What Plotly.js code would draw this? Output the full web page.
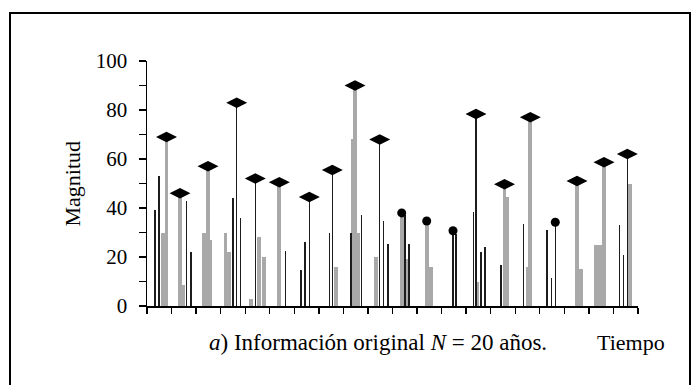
<!DOCTYPE html>
<html>
<head>
<meta charset="utf-8">
<script src="https://cdn.plot.ly/plotly-3.0.1.min.js"></script>
<style>html,body{margin:0;padding:0;background:#fff;}#chart{width:700px;height:385px;}</style>
</head>
<body>
<div id="chart"></div>
<script>
// Event times (years from start of record), magnitudes, and bar kind (g = gray, G = wide gray, k = black)
const eventTime = [0.326,0.489,0.652,0.794, 1.344,1.479,1.617,1.792, 2.322,2.485,2.566,
  3.198,3.352,3.503,3.654,3.817, 4.236,4.411,4.550,4.766, 5.389,5.633, 6.273,6.436,6.611,
  7.426,7.548,7.711, 8.310,8.371,8.473,8.607,8.737, 9.340,9.479,9.642,9.817,
  10.375,10.509,10.578,10.672, 11.393,11.568, 12.464,12.587,
  13.291,13.401,13.462,13.605,13.768, 14.420,14.562,14.684, 15.344,15.519,15.613,
  16.293,16.468,16.631, 17.515,17.690, 18.371,18.615, 19.238,19.401,19.564,19.674];
const eventMag = [39,53,30,69, 46,8.5,43,22, 30,57,27,
  30,22,44,83,36, 3,52,28,20, 50.5,22.5, 14.5,26,44.5,
  30,55.5,16, 30,68,90,30,37, 20,68,34.5,25.5,
  38,37,19,25.5, 34.7,16, 30.7,29.5,
  38.4,78.4,10,22,24, 16.7,49.7,44.5, 33.6,16,77,
  31,11.3,34.2, 51,15, 25,58.7, 33,21,62,50];
const eventKind = ['k','k','g','g', 'g','g','k','k', 'g','g','g',
  'g','g','k','k','k', 'g','k','g','g', 'g','k', 'k','k','k',
  'k','k','g', 'k','g','g','g','k', 'g','k','k','k',
  'g','k','g','k', 'g','g', 'k','k',
  'k','k','g','k','k', 'k','g','g', 'k','g','g',
  'k','k','k', 'g','g', 'G','g', 'k','k','k','g'];
const nYears = 20;
const yTicks = [0,20,40,60,80,100];
const yLabel = 'Magnitud';
const xLabel = 'Tiempo';
const caption = '<i>a</i>) Información original <i>N</i> = 20 años.';

// plot geometry (pixels)
const L = 147, R = 638, T = 61, B = 306, W = 700, H = 385;
const px = x => (x - L) / (R - L);
const py = y => (B - y) / (B - T);

const widthOf = {g: 0.15, G: 0.34, k: 0.06};
const colorOf = {g: '#a9a9a9', G: '#a9a9a9', k: '#1c1c1c'};

function sel(kinds) {
  const xs = [], ys = [], ws = [];
  eventTime.forEach((t, i) => {
    if (kinds.includes(eventKind[i])) { xs.push(t); ys.push(eventMag[i]); ws.push(widthOf[eventKind[i]]); }
  });
  return {xs, ys, ws};
}
const gray = sel(['g','G']);
const black = sel(['k']);

// annual maxima
const maxT = [], maxV = [];
for (let y = 0; y < nYears; y++) {
  let bi = -1;
  eventTime.forEach((t, i) => {
    if (Math.floor(t) === y && (bi < 0 || eventMag[i] > eventMag[bi])) bi = i;
  });
  if (bi >= 0) { maxT.push(eventTime[bi]); maxV.push(eventMag[bi]); }
}
const dT = [], dV = [], cT = [], cV = [];
maxV.forEach((v, i) => { if (v >= 40) { dT.push(maxT[i]); dV.push(v); } else { cT.push(maxT[i]); cV.push(v); } });

const fam = '"Liberation Serif", "Times New Roman", Times, serif';
const font = {family: fam, size: 21, color: '#000'};

const traces = [
  {type: 'bar', x: gray.xs, y: gray.ys, width: gray.ws, marker: {color: colorOf.g, line: {width: 0}}, hoverinfo: 'skip'},
  {type: 'bar', x: black.xs, y: black.ys, width: black.ws, marker: {color: colorOf.k, line: {width: 0}}, hoverinfo: 'skip'},
  {type: 'scatter', mode: 'markers', x: dT, y: dV, marker: {symbol: 'diamond-wide', size: 15, color: '#000'}, cliponaxis: false, hoverinfo: 'skip'},
  {type: 'scatter', mode: 'markers', x: cT, y: cV, marker: {symbol: 'circle', size: 9, color: '#000'}, cliponaxis: false, hoverinfo: 'skip'}
];

const layout = {
  width: W, height: H,
  margin: {l: L, r: W - R, t: T, b: H - B, pad: 0},
  paper_bgcolor: '#fff', plot_bgcolor: '#fff',
  showlegend: false,
  barmode: 'overlay',
  bargap: 0,
  font: font,
  xaxis: {
    range: [0, nYears], tickmode: 'linear', tick0: 0, dtick: 1,
    showticklabels: false, ticks: 'outside', ticklen: 6, tickwidth: 1.4, tickcolor: '#000',
    showline: true, linecolor: '#000', linewidth: 1.5, showgrid: false, zeroline: false, fixedrange: true
  },
  yaxis: {
    range: [0, 100], tickmode: 'array', tickvals: yTicks, ticktext: yTicks.map(String),
    ticks: 'outside', ticklen: 7, tickwidth: 1.4, tickcolor: '#000',
    minor: {ticks: 'outside', dtick: 10, tick0: 0, ticklen: 7, tickwidth: 1.4, tickcolor: '#000', showgrid: false},
    ticklabelstandoff: 7,
    tickfont: font,
    showline: true, linecolor: '#000', linewidth: 1.5, showgrid: false, zeroline: false, fixedrange: true
  },
  annotations: [
    {text: yLabel, xref: 'paper', yref: 'paper', x: px(72), y: py(183.5), textangle: -90, showarrow: false, font: {family: fam, size: 22, color: '#000'}, xanchor: 'center', yanchor: 'middle'},
    {text: caption, xref: 'paper', yref: 'paper', x: px(378), y: py(342), showarrow: false, font: {family: fam, size: 23, color: '#000'}, xanchor: 'center', yanchor: 'middle'},
    {text: xLabel, xref: 'paper', yref: 'paper', x: px(631), y: py(342), showarrow: false, font: {family: fam, size: 22, color: '#000'}, xanchor: 'center', yanchor: 'middle'}
  ],
  shapes: [
    {type: 'rect', xref: 'paper', yref: 'paper', x0: px(10), x1: px(690), y0: py(392), y1: py(13), line: {color: '#000', width: 2}, fillcolor: 'rgba(0,0,0,0)', layer: 'below'}
  ]
};

Plotly.newPlot('chart', traces, layout, {displayModeBar: false, staticPlot: true});
</script>
</body>
</html>
